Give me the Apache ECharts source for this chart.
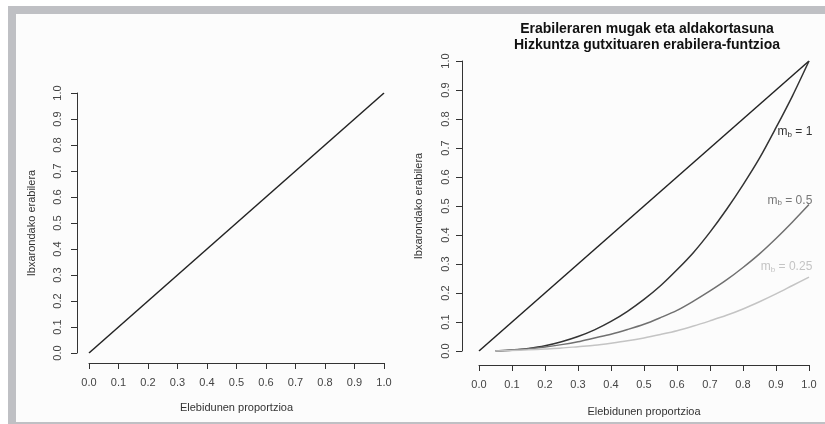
<!DOCTYPE html>
<html>
<head>
<meta charset="utf-8">
<script src="https://cdn.jsdelivr.net/npm/echarts@6/dist/echarts.min.js"></script>
<style>
  html, body { margin: 0; padding: 0; background: #ffffff; }
  #chart { width: 825px; height: 424px; }
</style>
</head>
<body>
<div id="chart"></div>
<script>
  /* data */
  var diagX = [0, 1];
  var diagY = [0, 1];
  var curveX = [0.05, 0.1, 0.15, 0.2, 0.25, 0.3, 0.35, 0.4, 0.45, 0.5, 0.55, 0.6, 0.65, 0.7, 0.75, 0.8, 0.85, 0.9, 0.95, 1.0];
  var mb1 = [0, 0.003, 0.009, 0.018, 0.032, 0.05, 0.073, 0.102, 0.137, 0.178, 0.225, 0.28, 0.34, 0.41, 0.488, 0.573, 0.665, 0.77, 0.88, 1.0];
  var mb05 = [0, 0.004, 0.008, 0.014, 0.022, 0.032, 0.045, 0.058, 0.074, 0.092, 0.115, 0.14, 0.172, 0.207, 0.245, 0.288, 0.335, 0.388, 0.445, 0.505];
  var mb025 = [0, 0.002, 0.004, 0.007, 0.01, 0.015, 0.02, 0.027, 0.035, 0.045, 0.057, 0.07, 0.086, 0.104, 0.123, 0.145, 0.17, 0.197, 0.226, 0.255];
  var labelNames = ['1', '0.5', '0.25'];
  var labelPos = [[1.01, 0.755], [1.01, 0.52], [1.01, 0.29]];
  var labelColors = ['#333', '#777', '#c4c4c4'];
  var xTitle = 'Elebidunen proportzioa';
  var yTitle = 'Ibxarondako erabilera';

  function pairs(xs, ys) {
    return xs.map(function (x, i) { return [x, ys[i]]; });
  }

  var font = 'Liberation Sans, Arial, sans-serif';
  var fmt = function (v) { return v.toFixed(1); };

  /* R style detached axes: each panel has a data grid, an x-axis grid
     and a y-axis grid shifted out from the data range */
  var panels = [
    { left: 89, top: 93, width: 295, height: 260, xOff: 10, yOff: 12, xGap: 39, yGap: 40, yMargin: 14 },
    { left: 479, top: 61, width: 330, height: 290, xOff: 14, yOff: 17, xGap: 41, yGap: 38, yMargin: 11 }
  ];

  var grids = [], xAxes = [], yAxes = [];
  function hiddenAxis(g) {
    return { type: 'value', gridIndex: g, min: 0, max: 1, show: false };
  }
  panels.forEach(function (p) {
    var g = grids.length;
    grids.push({ left: p.left, top: p.top, width: p.width, height: p.height });
    grids.push({ left: p.left, top: p.top, width: p.width, height: p.height + p.xOff });
    grids.push({ left: p.left - p.yOff, top: p.top, width: p.width + p.yOff, height: p.height });
    xAxes.push(hiddenAxis(g));
    yAxes.push(hiddenAxis(g));
    xAxes.push({
      type: 'value', gridIndex: g + 1, min: 0, max: 1, interval: 0.1, position: 'bottom',
      name: xTitle, nameLocation: 'middle', nameGap: p.xGap,
      nameTextStyle: { fontFamily: font, fontSize: 11, color: '#333' },
      axisLine: { show: true, onZero: false, lineStyle: { color: '#333', width: 1 } },
      axisTick: { show: true, length: 6, lineStyle: { color: '#333' } },
      axisLabel: { fontFamily: font, fontSize: 11, color: '#444', margin: 14, formatter: fmt },
      splitLine: { show: false }
    });
    yAxes.push(hiddenAxis(g + 1));
    xAxes.push(hiddenAxis(g + 2));
    yAxes.push({
      type: 'value', gridIndex: g + 2, min: 0, max: 1, interval: 0.1, position: 'left',
      name: yTitle, nameLocation: 'middle', nameGap: p.yGap, nameRotate: 90,
      nameTextStyle: { fontFamily: font, fontSize: 11, color: '#333' },
      axisLine: { show: true, onZero: false, lineStyle: { color: '#333', width: 1 } },
      axisTick: { show: true, length: 6, lineStyle: { color: '#333' } },
      axisLabel: { fontFamily: font, fontSize: 11, color: '#444', margin: p.yMargin, rotate: 90, formatter: fmt },
      splitLine: { show: false }
    });
  });

  var lineBase = { type: 'line', showSymbol: false, smooth: 0.3, silent: true };

  var chart = echarts.init(document.getElementById('chart'));
  var option = {
    backgroundColor: '#fcfcfc',
    animation: false,
    title: {
      text: 'Erabileraren mugak eta aldakortasuna\nHizkuntza gutxituaren erabilera-funtzioa',
      left: 642, top: 16, textAlign: 'center',
      textStyle: { fontFamily: font, fontSize: 14, fontWeight: 'bold', color: '#111', lineHeight: 16 }
    },
    grid: grids,
    xAxis: xAxes,
    yAxis: yAxes,
    series: [
      Object.assign({}, lineBase, { xAxisIndex: 0, yAxisIndex: 0, smooth: false,
        data: pairs(diagX, diagY), lineStyle: { color: '#222', width: 1.5 } }),
      Object.assign({}, lineBase, { xAxisIndex: 3, yAxisIndex: 3, smooth: false,
        data: pairs(diagX, diagY), lineStyle: { color: '#222', width: 1.5 } }),
      Object.assign({}, lineBase, { xAxisIndex: 3, yAxisIndex: 3,
        data: pairs(curveX, mb1), lineStyle: { color: '#333', width: 1.5 } }),
      Object.assign({}, lineBase, { xAxisIndex: 3, yAxisIndex: 3,
        data: pairs(curveX, mb05), lineStyle: { color: '#707070', width: 1.5 } }),
      Object.assign({}, lineBase, { xAxisIndex: 3, yAxisIndex: 3,
        data: pairs(curveX, mb025), lineStyle: { color: '#c4c4c4', width: 1.5 } })
    ]
  };
  chart.setOption(option);

  /* frame, axis lines and m_b labels */
  var graphics = [
    { type: 'rect', shape: { x: 0, y: 0, width: 825, height: 6 }, style: { fill: '#ffffff' } },
    { type: 'rect', shape: { x: 0, y: 0, width: 8, height: 424 }, style: { fill: '#ffffff' } },
    { type: 'rect', shape: { x: 8, y: 6, width: 817, height: 8 }, style: { fill: '#bfc0c4' } },
    { type: 'rect', shape: { x: 8, y: 6, width: 8, height: 418 }, style: { fill: '#bfc0c4' } },
    { type: 'rect', shape: { x: 8, y: 422, width: 817, height: 2 }, style: { fill: '#bfc0c4' } }
  ];
  panels.forEach(function (p, i) {
    var g = i * 3;
    var a = chart.convertToPixel({ gridIndex: g + 1 }, [0, 0]);
    var b = chart.convertToPixel({ gridIndex: g + 1 }, [1, 0]);
    var c = chart.convertToPixel({ gridIndex: g + 2 }, [0, 0]);
    var d = chart.convertToPixel({ gridIndex: g + 2 }, [0, 1]);
    graphics.push({ type: 'line', silent: true,
      shape: { x1: a[0], y1: Math.round(a[1]) + 0.5, x2: b[0], y2: Math.round(b[1]) + 0.5 },
      style: { stroke: '#333', lineWidth: 1 } });
    graphics.push({ type: 'line', silent: true,
      shape: { x1: Math.round(c[0]) + 0.5, y1: c[1], x2: Math.round(d[0]) + 0.5, y2: d[1] },
      style: { stroke: '#333', lineWidth: 1 } });
  });
  labelNames.forEach(function (n, i) {
    var pt = chart.convertToPixel({ gridIndex: 3 }, labelPos[i]);
    var c = labelColors[i];
    graphics.push({
      type: 'text', x: pt[0], y: pt[1], silent: true,
      style: {
        text: '{m|m}{b|b}{t| = ' + n + '}',
        align: 'right', verticalAlign: 'middle',
        rich: {
          m: { fontFamily: font, fontSize: 12, fill: c },
          b: { fontFamily: font, fontSize: 8, fill: c, padding: [5, 0, 0, 0] },
          t: { fontFamily: font, fontSize: 12, fill: c }
        }
      }
    });
  });
  chart.setOption({ graphic: graphics });
</script>
</body>
</html>
